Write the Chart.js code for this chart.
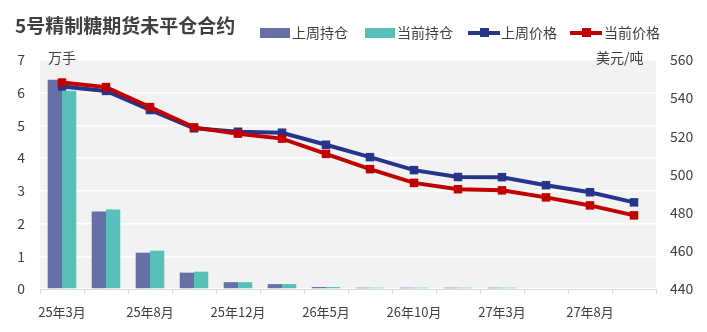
<!DOCTYPE html>
<html>
<head>
<meta charset="utf-8">
<script src="https://cdn.jsdelivr.net/npm/chart.js@4.4.0/dist/chart.umd.min.js"></script>
<style>
  body { margin: 0; background: #fff; }
  #wrap { position: relative; width: 707px; height: 332px; font-family: "Noto Sans CJK SC", "Open Sans", sans-serif; color: #404040; }
  #title { position: absolute; left: 15px; top: 12px; font-size: 19px; font-weight: bold; line-height: 26px; white-space: nowrap; }
  .lg { position: absolute; top: 23px; font-size: 14px; line-height: 18px; white-space: nowrap; }
  .box { position: absolute; top: 28px; width: 30px; height: 10px; }
  .ln { position: absolute; top: 31px; height: 4px; width: 32px; }
  .ln i { position: absolute; left: 12px; top: -3px; width: 9px; height: 9px; background: inherit; }
  .unit { position: absolute; top: 48px; font-size: 14px; line-height: 18px; white-space: nowrap; }
</style>
</head>
<body>
<div id="wrap">
  <canvas id="grafica" width="707" height="332"></canvas>
  <div id="title">5号精制糖期货未平仓合约</div>
  <div class="box" style="left:260px;background:#6670A6"></div><div class="lg" style="left:292px">上周持仓</div>
  <div class="box" style="left:365px;background:#57C1B9"></div><div class="lg" style="left:397px">当前持仓</div>
  <div class="ln" style="left:468px;background:#26358A"><i></i></div><div class="lg" style="left:501px">上周价格</div>
  <div class="ln" style="left:570px;background:#C00000"><i></i></div><div class="lg" style="left:604px">当前价格</div>
  <div class="unit" style="left:48px">万手</div>
  <div class="unit" style="left:596px">美元/吨</div>
</div>
<script>
const meses = ["25年3月", "25年5月", "25年8月", "25年10月", "25年12月", "26年3月", "26年5月",
               "26年8月", "26年10月", "26年12月", "27年3月", "27年5月", "27年8月", "27年10月"];
const posSemana = [6.40, 2.37, 1.11, 0.50, 0.21, 0.15, 0.06, 0.04, 0.04, 0.04, 0.04, 0, 0, 0];
const posActual = [6.06, 2.43, 1.17, 0.53, 0.21, 0.15, 0.06, 0.04, 0.04, 0.04, 0.04, 0, 0, 0];
const precioSemana = [546.1, 543.8, 533.8, 524.2, 522.4, 521.9, 515.6, 509.1, 502.3, 498.7, 498.6, 494.4, 490.7, 485.4];
const precioActual = [548.2, 545.8, 535.3, 524.7, 521.4, 518.8, 510.8, 502.8, 495.6, 492.3, 491.7, 488.0, 483.8, 478.6];

const fondoGris = {
    id: 'fondoGris',
    beforeDraw(chart) {
        const a = chart.chartArea, ctx = chart.ctx;
        ctx.save();
        ctx.fillStyle = '#F2F2F2';
        ctx.fillRect(a.left, a.top, a.right - a.left, a.bottom - a.top);
        ctx.restore();
    }
};

const fuente = { family: '"Noto Sans CJK SC", "Open Sans", sans-serif', size: 14 };

new Chart(document.getElementById('grafica'), {
    data: {
        labels: meses,
        datasets: [
            { type: 'line', label: '当前价格', data: precioActual, yAxisID: 'y2', order: 0,
              borderColor: '#C00000', backgroundColor: '#C00000', borderWidth: 4,
              pointStyle: 'rect', pointRadius: 6, pointBorderWidth: 0, tension: 0 },
            { type: 'line', label: '上周价格', data: precioSemana, yAxisID: 'y2', order: 1,
              borderColor: '#26358A', backgroundColor: '#26358A', borderWidth: 4,
              pointStyle: 'rect', pointRadius: 6, pointBorderWidth: 0, tension: 0 },
            { type: 'bar', label: '上周持仓', data: posSemana, yAxisID: 'y', order: 2,
              backgroundColor: '#6670A6', categoryPercentage: 0.65, barPercentage: 1 },
            { type: 'bar', label: '当前持仓', data: posActual, yAxisID: 'y', order: 3,
              backgroundColor: '#57C1B9', categoryPercentage: 0.65, barPercentage: 1 }
        ]
    },
    options: {
        responsive: false,
        animation: false,
        layout: { padding: { top: 60, left: 0, right: 0, bottom: 0 } },
        plugins: { legend: { display: false }, tooltip: { enabled: false } },
        scales: {
            x: {
                offset: true,
                grid: { offset: true, drawOnChartArea: false, drawTicks: true, tickLength: 5, color: '#D9D9D9' },
                border: { color: '#D9D9D9' },
                ticks: {
                    autoSkip: false, maxRotation: 0, padding: 10, color: '#404040',
                    font: { family: fuente.family, size: 13 },
                    callback: function(v, i) { return i % 2 === 0 ? meses[i] : ''; }
                },
                afterFit(s) { s.height = 43; }
            },
            y: {
                position: 'left', min: 0, max: 7,
                ticks: { stepSize: 1, padding: 15, color: '#404040', font: fuente },
                grid: { color: '#FFFFFF', lineWidth: 1.5, drawTicks: false },
                border: { display: false },
                afterFit(s) { s.width = 40; }
            },
            y2: {
                position: 'right', min: 440, max: 560,
                ticks: { stepSize: 20, padding: 14, color: '#404040', font: fuente },
                grid: { drawOnChartArea: false, drawTicks: false },
                border: { display: false },
                afterFit(s) { s.width = 51; }
            }
        }
    },
    plugins: [fondoGris]
});
</script>
</body>
</html>
